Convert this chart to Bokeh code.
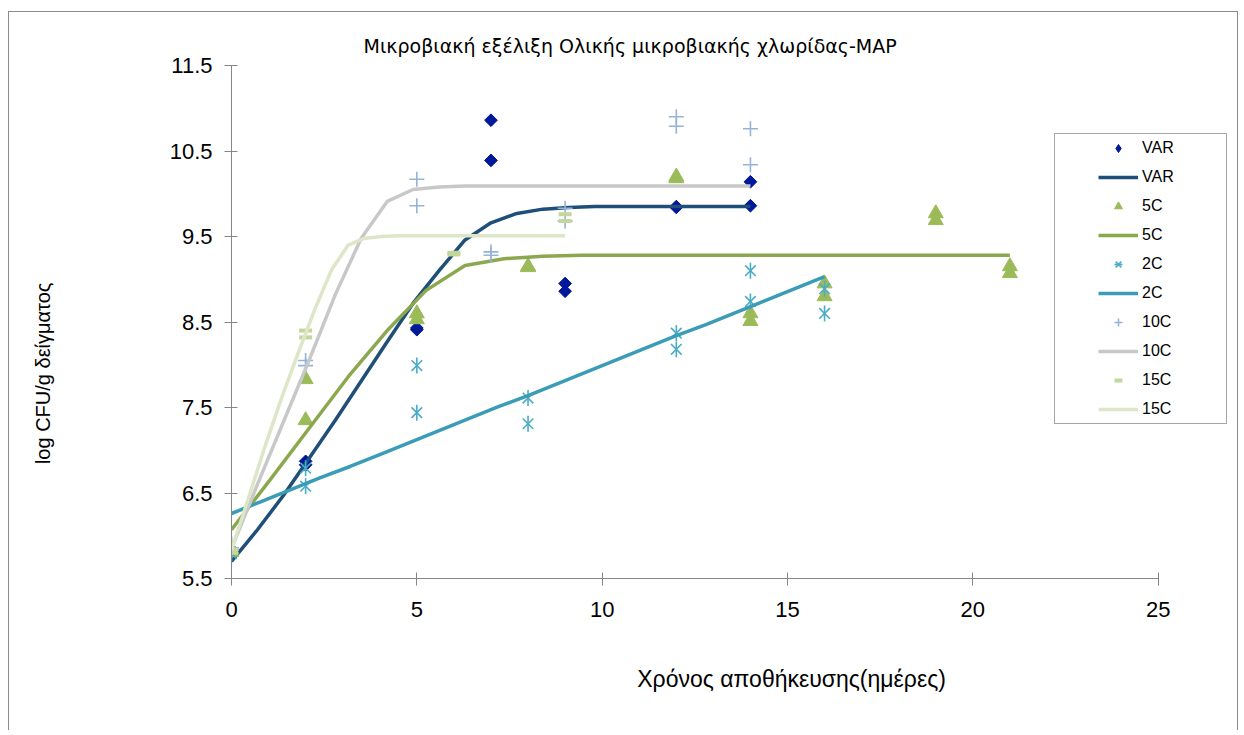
import math
from bokeh.plotting import figure
from bokeh.models import Legend, LegendItem, Label, Range1d, FixedTicker
from bokeh.embed import file_html
from bokeh.resources import INLINE

# ---------------- data ----------------
title_text = "Μικροβιακή εξέλιξη Ολικής μικροβιακής χλωρίδας-MAP"
x_label = "Χρόνος αποθήκευσης(ημέρες)"
y_label = "log CFU/g δείγματος"

x_ticks = [0, 5, 10, 15, 20, 25]
y_ticks = [5.5, 6.5, 7.5, 8.5, 9.5, 10.5, 11.5]

# observed values
var_days = [0, 0, 2, 2, 5, 5, 7, 7, 9, 9, 12, 12, 14, 14]
var_log = [5.84, 5.82, 6.87, 6.83, 8.43, 8.41, 10.86, 10.39, 8.95, 8.86, 9.84, 9.85, 10.14, 9.86]

c5_days = [0, 0, 2, 2, 5, 5, 8, 8, 12, 12, 14, 14, 16, 16, 19, 19, 21, 21]
c5_log = [5.84, 5.81, 7.83, 7.35, 8.60, 8.53, 9.15, 9.14, 10.20, 10.18, 8.60, 8.51, 8.95, 8.80, 9.77, 9.69, 9.15, 9.07]

c2_days = [0, 0, 2, 2, 5, 5, 8, 8, 12, 12, 14, 14, 16, 16]
c2_log = [5.90, 5.79, 6.79, 6.58, 7.99, 7.44, 7.61, 7.31, 8.37, 8.18, 9.10, 8.74, 8.89, 8.60]

c10_days = [0, 0, 2, 2, 5, 5, 7, 7, 9, 9, 12, 12, 14, 14]
c10_log = [5.86, 5.83, 8.05, 7.99, 10.17, 9.86, 9.32, 9.28, 9.83, 9.68, 10.90, 10.79, 10.76, 10.34]

c15_days = [0, 0, 2, 2, 6, 6, 9, 9]
c15_log = [5.84, 5.80, 8.40, 8.32, 9.31, 9.29, 9.76, 9.68]

# fitted curves
var_fit_days = [0, 0.7, 1.4, 2.1, 2.8, 3.5, 4.2, 4.9, 5.6, 6.3, 7.0, 7.7, 8.4, 9.1, 9.8, 10.5, 11.2, 11.9, 12.6, 13.3, 14.0]
var_fit_log = [5.70, 6.07, 6.47, 6.91, 7.35, 7.81, 8.27, 8.72, 9.10, 9.46, 9.66, 9.77, 9.82, 9.84, 9.85, 9.85, 9.85, 9.85, 9.85, 9.85, 9.85]

c5_fit_days = [0, 1.05, 2.1, 3.15, 4.2, 5.25, 6.3, 7.35, 8.4, 9.45, 10.5, 11.55, 12.6, 13.65, 14.7, 15.75, 16.8, 17.85, 18.9, 19.95, 21.0]
c5_fit_log = [6.07, 6.66, 7.26, 7.86, 8.40, 8.87, 9.16, 9.24, 9.27, 9.28, 9.28, 9.28, 9.28, 9.28, 9.28, 9.28, 9.28, 9.28, 9.28, 9.28, 9.28]

c2_fit_days = [0, 0.8, 1.6, 2.4, 3.2, 4.0, 4.8, 5.6, 6.4, 7.2, 8.0, 8.8, 9.6, 10.4, 11.2, 12.0, 12.8, 13.6, 14.4, 15.2, 16.0]
c2_fit_log = [6.26, 6.40, 6.54, 6.68, 6.81, 6.95, 7.09, 7.23, 7.37, 7.51, 7.64, 7.78, 7.92, 8.06, 8.20, 8.34, 8.47, 8.61, 8.75, 8.89, 9.03]

c10_fit_days = [0, 0.7, 1.4, 2.1, 2.8, 3.5, 4.2, 4.9, 5.6, 6.3, 7.0, 7.7, 8.4, 9.1, 9.8, 10.5, 11.2, 11.9, 12.6, 13.3, 14.0]
c10_fit_log = [5.85, 6.60, 7.33, 8.06, 8.82, 9.48, 9.91, 10.05, 10.08, 10.09, 10.09, 10.09, 10.09, 10.09, 10.09, 10.09, 10.09, 10.09, 10.09, 10.09, 10.09]

c15_fit_days = [0, 0.45, 0.9, 1.35, 1.8, 2.25, 2.7, 3.15, 3.6, 4.05, 4.5, 4.95, 5.4, 5.85, 6.3, 6.75, 7.2, 7.65, 8.1, 8.55, 9.0]
c15_fit_log = [5.83, 6.43, 7.04, 7.61, 8.14, 8.65, 9.11, 9.40, 9.48, 9.50, 9.51, 9.51, 9.51, 9.51, 9.51, 9.51, 9.51, 9.51, 9.51, 9.51, 9.51]

# ---------------- styling ----------------
FONT = "Liberation Sans"
AXIS_COL = "#868686"
BORDER = "1px solid #8c8c8c"

p = figure(width=1230, height=719, output_backend="svg", toolbar_location=None,
           x_range=Range1d(0, 27.14), y_range=Range1d(5.5, 11.5),
           min_border_left=222, min_border_right=2, min_border_top=53, min_border_bottom=153)
p.styles = {"border-top": BORDER, "border-left": BORDER, "border-right": BORDER,
            "position": "relative", "left": "8px", "top": "11px"}
p.grid.visible = False
p.outline_line_color = None
p.background_fill_color = "white"
p.border_fill_color = "white"

p.title.text = title_text
p.title.align = "left"
p.title.offset = 132
p.title.standoff = 17
p.title.text_font = "DejaVu Sans"
p.title.text_font_size = "19px"
p.title.text_font_style = "normal"
p.title.text_color = "black"

for ax in (p.xaxis[0], p.yaxis[0]):
    ax.axis_line_color = AXIS_COL
    ax.major_tick_line_color = AXIS_COL
    ax.minor_tick_line_color = None
    ax.major_tick_in = 6
    ax.major_tick_out = 7
    ax.major_label_text_font = FONT
    ax.major_label_text_font_size = "22px"
    ax.major_label_text_color = "black"
p.xaxis.ticker = FixedTicker(ticks=x_ticks)
p.xaxis.bounds = (0, 25)
p.yaxis.ticker = FixedTicker(ticks=y_ticks)
p.xaxis.major_label_standoff = 16
p.yaxis.major_label_standoff = 12

# ---------------- series ----------------
VAR_MK = "#00189A"
# diamond-shaped key lying fully underneath the rotated squares (used for the legend)
r_var_key = p.scatter(var_days, var_log, marker="diamond", size=11, fill_color=VAR_MK, line_color=VAR_MK)
r_var_p = p.scatter(var_days, var_log, marker="square", angle=math.pi / 4, size=9,
                    fill_color=VAR_MK, line_color=VAR_MK)
r_var_l = p.line(var_fit_days, var_fit_log, line_color="#1F4E79", line_width=3.5)

r_c5_p = p.scatter(c5_days, c5_log, marker="triangle", size=15,
                   fill_color="#9BBB59", line_color="#9BBB59")
r_c5_l = p.line(c5_fit_days, c5_fit_log, line_color="#8BA84F", line_width=3.5)

r_c2_p1 = p.scatter(c2_days, c2_log, marker="x", size=15, line_color="#4BACC6", line_width=1.6)
r_c2_p2 = p.scatter(c2_days, c2_log, marker="dash", angle=math.pi / 2, size=16,
                    line_color="#4BACC6", line_width=1.6)
r_c2_l = p.line(c2_fit_days, c2_fit_log, line_color="#3A9DB5", line_width=3.5)

r_c10_p = p.scatter(c10_days, c10_log, marker="cross", size=15, line_color="#95B3D7", line_width=1.6)
r_c10_l = p.line(c10_fit_days, c10_fit_log, line_color="#C8C8C8", line_width=3.5)

r_c15_p = p.scatter(c15_days, c15_log, marker="dash", size=13, line_color="#C3D69B", line_width=4)
r_c15_l = p.line(c15_fit_days, c15_fit_log, line_color="#DDE6C6", line_width=3.5)

legend = Legend(items=[
    LegendItem(label="VAR", renderers=[r_var_key]),
    LegendItem(label="VAR", renderers=[r_var_l]),
    LegendItem(label="5C", renderers=[r_c5_p]),
    LegendItem(label="5C", renderers=[r_c5_l]),
    LegendItem(label="2C", renderers=[r_c2_p1, r_c2_p2]),
    LegendItem(label="2C", renderers=[r_c2_l]),
    LegendItem(label="10C", renderers=[r_c10_p]),
    LegendItem(label="10C", renderers=[r_c10_l]),
    LegendItem(label="15C", renderers=[r_c15_p]),
    LegendItem(label="15C", renderers=[r_c15_l]),
], location=(823, 154))
legend.title = " "
legend.title_location = "left"
legend.title_text_font_size = "10px"
legend.title_standoff = 28
legend.padding = 4
legend.spacing = 9
legend.glyph_width = 40
legend.glyph_height = 20
legend.label_height = 20
legend.label_width = 80
legend.label_standoff = 4
legend.label_text_font = FONT
legend.label_text_font_size = "16px"
legend.label_text_color = "black"
legend.border_line_color = "#4d4d4d"
legend.border_line_width = 1
legend.background_fill_color = "white"
legend.background_fill_alpha = 1.0
legend.margin = 0
p.add_layout(legend, "center")

# axis titles: placed in the side panels (not clipped to the frame), positioned on the data scales
p.add_layout(Label(x=-5.08, y=7.90, text=y_label,
                   angle=math.pi / 2, text_align="center", text_baseline="middle",
                   text_font=FONT, text_font_size="20px", text_color="black"), "left")
p.add_layout(Label(x=15.11, y=4.32, text=x_label,
                   text_align="center", text_baseline="middle",
                   text_font=FONT, text_font_size="23px", text_color="black"), "below")

open("out.html", "w").write(file_html(p, INLINE))
